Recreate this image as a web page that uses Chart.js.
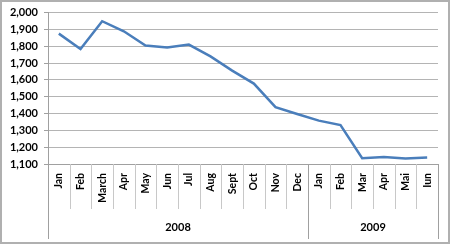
<!DOCTYPE html>
<html>
<head>
<meta charset="utf-8">
<script src="https://cdn.jsdelivr.net/npm/chart.js@4/dist/chart.umd.min.js"></script>
<style>
  html, body { margin: 0; padding: 0; background: #fff; }
  canvas { display: block; }
</style>
</head>
<body>
<canvas id="chart" width="450" height="244"></canvas>
<script>
// Monthly values, Jan 2008 - Jun 2009
const months = ['Jan', 'Feb', 'March', 'Apr', 'May', 'Jun', 'Jul', 'Aug', 'Sept', 'Oct', 'Nov', 'Dec',
                'Jan', 'Feb', 'Mar', 'Apr', 'Mai', 'Iun'];
const values = [1875, 1784, 1949, 1889, 1804, 1792, 1810, 1740, 1655, 1578, 1438, 1397,
                1358, 1331, 1134, 1142, 1132, 1138];
const years = ['2008', '2009'];
const yearSpans = [12, 6];   // number of months under each year
const yTicks = [1100, 1200, 1300, 1400, 1500, 1600, 1700, 1800, 1900, 2000];

const FONT = 'Lato, "Open Sans", sans-serif';

// draws the month dividers, the year row and the outer frame
const groupAxis = {
    id: 'groupAxis',
    afterDraw(chart) {
        const ctx = chart.ctx;
        const x = chart.scales.x;
        const area = chart.chartArea;
        const step = (x.right - x.left) / months.length;
        ctx.save();
        ctx.lineWidth = 1;
        // month dividers
        ctx.strokeStyle = '#c8c8c8';
        for (let i = 1; i < months.length; i++) {
            const px = Math.round(x.left + i * step) + 0.5;
            ctx.beginPath();
            ctx.moveTo(px, area.bottom);
            ctx.lineTo(px, area.bottom + 45);
            ctx.stroke();
        }
        // year dividers and labels
        ctx.strokeStyle = '#a0a0a0';
        ctx.fillStyle = '#000';
        ctx.font = 'bold 11px ' + FONT;
        ctx.textAlign = 'center';
        ctx.textBaseline = 'middle';
        let start = 0;
        const edges = [0];
        yearSpans.forEach((n, k) => {
            const x0 = x.left + start * step;
            const x1 = x.left + (start + n) * step;
            ctx.fillText(years[k], (x0 + x1) / 2, area.bottom + 63);
            start += n;
            edges.push(start);
        });
        edges.forEach(e => {
            const px = Math.round(x.left + e * step) + 0.5;
            ctx.beginPath();
            ctx.moveTo(px, area.bottom);
            ctx.lineTo(px, area.bottom + 75);
            ctx.stroke();
        });
        // frame
        ctx.strokeStyle = '#b0b0b0';
        ctx.lineWidth = 2;
        ctx.strokeRect(1, 1, chart.width - 2, chart.height - 2);
        ctx.restore();
    }
};

new Chart(document.getElementById('chart'), {
    type: 'line',
    data: {
        labels: months,
        datasets: [{
            data: values,
            borderColor: '#4a7ebb',
            borderWidth: 2.5,
            pointRadius: 0,
            tension: 0,
            fill: false
        }]
    },
    options: {
        responsive: false,
        animation: false,
        layout: { padding: { top: 12, right: 12, bottom: 35, left: 2 } },
        plugins: {
            legend: { display: false },
            tooltip: { enabled: false }
        },
        scales: {
            x: {
                offset: true,
                grid: { display: false, drawTicks: false },
                border: { display: true, color: '#a0a0a0' },
                ticks: {
                    autoSkip: false,
                    minRotation: 90,
                    maxRotation: 90,
                    padding: 9,
                    color: '#000',
                    font: { family: FONT, size: 10.5, weight: 'bold' }
                },
                afterFit(scale) { scale.height = 45; }
            },
            y: {
                min: 1100,
                max: 2000,
                afterBuildTicks(scale) { scale.ticks = yTicks.map(v => ({ value: v })); },
                grid: { color: '#b4b4b4', tickLength: 4, tickColor: '#a0a0a0' },
                border: { display: true, color: '#a0a0a0' },
                ticks: {
                    padding: 6,
                    color: '#000',
                    font: { family: FONT, size: 11, weight: 'bold' },
                    callback: v => v.toLocaleString('en-US')
                },
                afterFit(scale) { scale.width = 46; }
            }
        }
    },
    plugins: [groupAxis]
});
</script>
</body>
</html>
